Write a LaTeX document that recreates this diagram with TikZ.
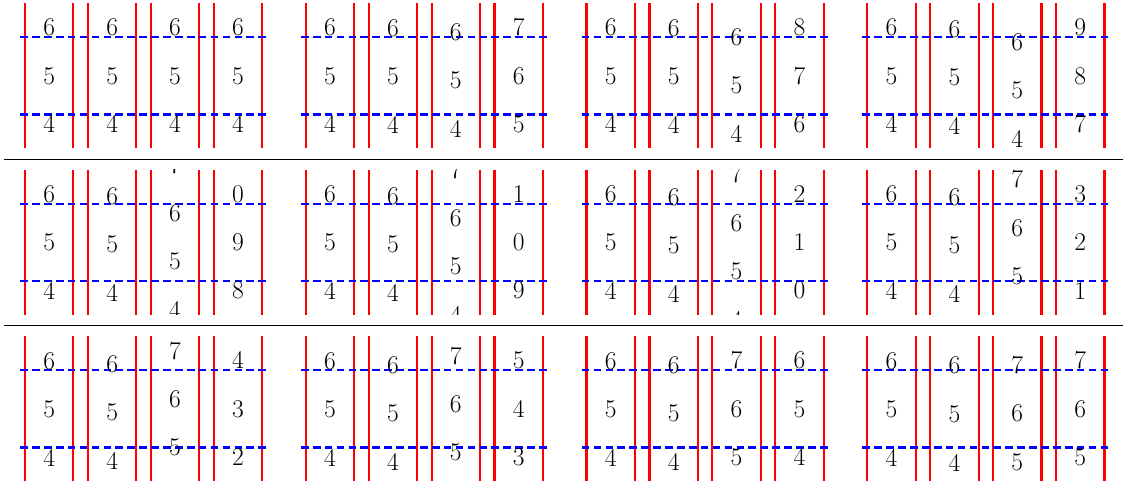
\documentclass[tikz,border=0pt]{standalone}
\usepackage{tikz}
\usetikzlibrary{positioning}

\begin{document}
\begin{tikzpicture}[
  % Line styles
  wheel/.style={draw=red, line width=1.25pt},
  window/.style={draw=blue, line width=1.25pt, dash pattern=on 4.5pt off 2.5pt},
  divider/.style={draw=black, line width=0.6pt},
  digit/.style={font=\fontsize{15}{18}\selectfont, inner sep=0pt},
]
\useasboundingbox (-0.517,1.566) rectangle (22.683,-8.393);

% ---- row dividers ----
\coordinate (d1l) at (-0.43,-1.72);
\coordinate (d1r) at (22.683,-1.72);
\coordinate (d2l) at (-0.43,-5.16);
\coordinate (d2r) at (22.683,-5.16);
\draw[divider] (d1l) -- (d1r);
\draw[divider] (d2l) -- (d2r);

% ---- frame outlines: wheels and reading window ----
\foreach \k in {0,...,11} {
  \pgfmathtruncatemacro{\row}{int(\k/4)}
  \pgfmathtruncatemacro{\col}{mod(\k,4)}
  \begin{scope}[shift={(5.8*\col,-3.44*\row)}]
    \foreach \c in {1,...,4} {
      \coordinate (wl-\k-\c) at (1.3*\c-1.3,-1.5);
      \coordinate (wr-\k-\c) at (1.3*\c-0.3,-1.5);
      \draw[wheel] (wl-\k-\c) -- ++(0,3);
      \draw[wheel] (wr-\k-\c) -- ++(0,3);
    }
    \draw[window] (-0.1,0.8) -- (5,0.8);
    \draw[window] (-0.1,-0.8) -- (5,-0.8);
  \end{scope}
}

% ---- rolling digits: counter 5555 + k ----
\foreach \k in {0,...,11} {
  \pgfmathtruncatemacro{\row}{int(\k/4)}
  \pgfmathtruncatemacro{\col}{mod(\k,4)}
  \begin{scope}[shift={(5.8*\col,-3.44*\row)}]
    \foreach \c in {1,...,4} {
      \pgfmathsetmacro{\val}{5+\k/10^(4-\c)}
      \pgfmathtruncatemacro{\base}{floor(\val)}
      \begin{scope}
        \clip (1.3*\c-1.3,-1.5) rectangle ++(1,3);
        \foreach \d in {-2,...,2} {
          \pgfmathtruncatemacro{\n}{\base+\d}
          \pgfmathtruncatemacro{\lab}{mod(\n,10)}
          \pgfmathsetmacro{\ypos}{\n-\val}
          \node[digit] (dig-\k-\c-\n) at (1.3*\c-0.8,\ypos) {\lab};
        }
      \end{scope}
    }
  \end{scope}
}
\end{tikzpicture}
\end{document}
